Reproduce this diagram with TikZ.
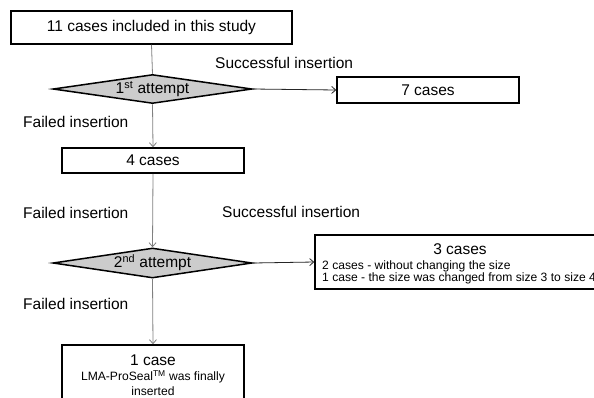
\documentclass[tikz,border=0pt]{standalone}
\usepackage{fontspec}
\setmainfont{Liberation Sans}
\usetikzlibrary{shapes.geometric,arrows.meta}
\definecolor{linegray}{RGB}{128,128,128}
\definecolor{diafill}{RGB}{204,204,204}
\begin{document}
\begin{tikzpicture}[x=1pt,y=-1pt,
  big/.style={font=\fontsize{15.5}{18}\selectfont},
  small/.style={font=\fontsize{12.1}{13}\selectfont},
  box/.style={draw, line width=1.5pt, fill=white, inner sep=0pt, big},
  dia/.style={diamond, draw, line width=1.5pt, fill=diafill, inner sep=0pt, shape aspect=6.9, minimum width=199pt, minimum height=29pt, big},
  lbl/.style={anchor=west, inner sep=0pt, big},
  vconn/.style={draw=linegray, line width=0.8pt},
  varr/.style={vconn, -{Straight Barb[length=4pt,width=7pt]}},
  harr/.style={draw=black!85, line width=0.8pt, -{Straight Barb[length=4pt,width=7pt]}}
]
\useasboundingbox (0,0) rectangle (594,397);
\clip (0,0) rectangle (594,397);
\fill[white] (0,0) rectangle (594,397);

\node[box, minimum width=281pt, minimum height=33pt] (top) at (151.5,27.5) {11 cases included in this study};
\node[dia] (d1) at (152.5,89) {1\textsuperscript{st} attempt};
\node[box, minimum width=182pt, minimum height=26pt] (seven) at (428,90) {7 cases};
\node[box, minimum width=182pt, minimum height=25pt] (four) at (153,160.5) {4 cases};
\node[dia, minimum height=30pt] (d2) at (152.5,263) {2\textsuperscript{nd} attempt};
\node[box, minimum width=290pt, minimum height=54pt] (three) at (460,262) {};
\node[box, minimum width=182pt, minimum height=66pt] (one) at (153,378) {};

\node[big, inner sep=0pt] (t3) at (460,249) {3 cases};
\node[small, anchor=west, inner sep=0pt] (t3a) at (322,266) {2 cases - without changing the size};
\node[small, anchor=west, inner sep=0pt] (t3b) at (322,278.5) {1 case - the size was changed from size 3 to size 4};

\node[big, inner sep=0pt] (t1) at (153,360) {1 case};
\node[small, inner sep=0pt] (t1a) at (153,377) {LMA-ProSeal\textsuperscript{TM} was finally};
\node[small, inner sep=0pt] (t1b) at (153,391) {inserted};

\node[lbl] (s1) at (215,63) {Successful insertion};
\node[lbl] (s2) at (222,212) {Successful insertion};
\node[lbl] (f1) at (23,122) {Failed insertion};
\node[lbl] (f2) at (23,213) {Failed insertion};
\node[lbl] (f3) at (23,304) {Failed insertion};

\draw[vconn] (top.south) -- (d1.north);
\draw[harr] (d1.east) -- (seven.west);
\draw[varr] (d1.south) -- (four.north);
\draw[varr] (four.south) -- (d2.north);
\draw[harr] (d2.east) -- (three.west);
\draw[varr] (d2.south) -- (one.north);
\end{tikzpicture}
\end{document}
